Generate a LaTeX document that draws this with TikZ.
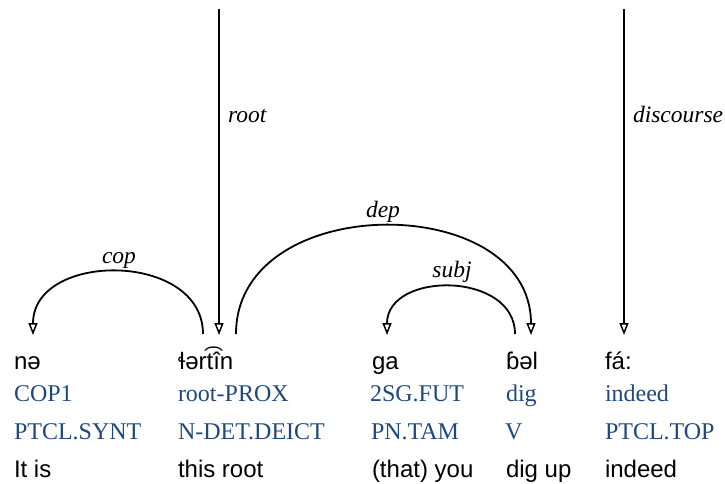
\documentclass[tikz,border=0pt]{standalone}
\usepackage{fontspec}
\setmainfont{Liberation Serif}
\setsansfont{Liberation Sans}
\usetikzlibrary{arrows.meta}
\definecolor{glossblue}{RGB}{31,73,125}
\begin{document}
\begin{tikzpicture}[x=1pt,y=-1pt,
  every node/.style={inner sep=0pt,outer sep=0pt,anchor=base west},
  wordtxt/.style={font=\fontsize{24}{28}\sffamily\selectfont,text=black},
  glosstxt/.style={font=\fontsize{24}{28}\rmfamily\selectfont,text=glossblue},
  transtxt/.style={font=\fontsize{24}{28}\sffamily\selectfont,text=black},
  deplabel/.style={font=\fontsize{23.5}{28}\rmfamily\itshape\selectfont,text=black},
  deparrow/.style={line width=1.8pt,-{Triangle[open,length=12pt,width=9pt,line width=1.5pt]}},
]
\useasboundingbox (0,0) rectangle (725,483);

% column 1
\node[wordtxt]  (w1) at (14,369) {nə};
\node[glosstxt] (g1) at (14,401) {COP1};
\node[glosstxt] (c1) at (14,439) {PTCL.SYNT};
\node[transtxt] (t1) at (14,477) {It is};
% column 2
\node[wordtxt]  (w2) at (178,369) {ɬərt\char"0361 în};
\node[glosstxt] (g2) at (178,401) {root-PROX};
\node[glosstxt] (c2) at (178,439) {N-DET.DEICT};
\node[transtxt] (t2) at (178,477) {this root};
% column 3
\node[wordtxt]  (w3) at (372,369) {ga};
\node[glosstxt] (g3) at (370,401) {2SG.FUT};
\node[glosstxt] (c3) at (371,439) {PN.TAM};
\node[transtxt] (t3) at (372,477) {(that) you};
% column 4
\node[wordtxt]  (w4) at (506,369) {ɓəl};
\node[glosstxt] (g4) at (506,401) {dig};
\node[glosstxt] (c4) at (505,439) {V};
\node[transtxt] (t4) at (506,477) {dig up};
% column 5
\node[wordtxt]  (w5) at (605,369) {fá:};
\node[glosstxt] (g5) at (605,401) {indeed};
\node[glosstxt] (c5) at (605,439) {PTCL.TOP};
\node[transtxt] (t5) at (605,477) {indeed};

% connector end points
\coordinate (rootTop) at (219,9);
\coordinate (rootEnd) at (219,335);
\coordinate (discTop) at (624,9);
\coordinate (discEnd) at (624,335);
\coordinate (copS) at (203,334);
\coordinate (copE) at (33,335);
\coordinate (depS) at (236,334);
\coordinate (depE) at (531,335);
\coordinate (subjS) at (515,334);
\coordinate (subjE) at (387,335);

% root and discourse
\draw[deparrow] (rootTop) -- (rootEnd);
\node[deplabel] (lroot) at (228,122) {root};
\draw[deparrow] (discTop) -- (discEnd);
\node[deplabel] (ldisc) at (633,122) {discourse};

% arcs
\draw[deparrow] (copS) .. controls (203,251) and (33,251) .. (copE);
\node[deplabel,anchor=base] (lcop) at (119,263) {cop};
\draw[deparrow] (depS) .. controls (236,190) and (531,190) .. (depE);
\node[deplabel,anchor=base] (ldep) at (383,217) {dep};
\draw[deparrow] (subjS) .. controls (515,271) and (387,271) .. (subjE);
\node[deplabel,anchor=base] (lsubj) at (452,277) {subj};
\end{tikzpicture}
\end{document}
